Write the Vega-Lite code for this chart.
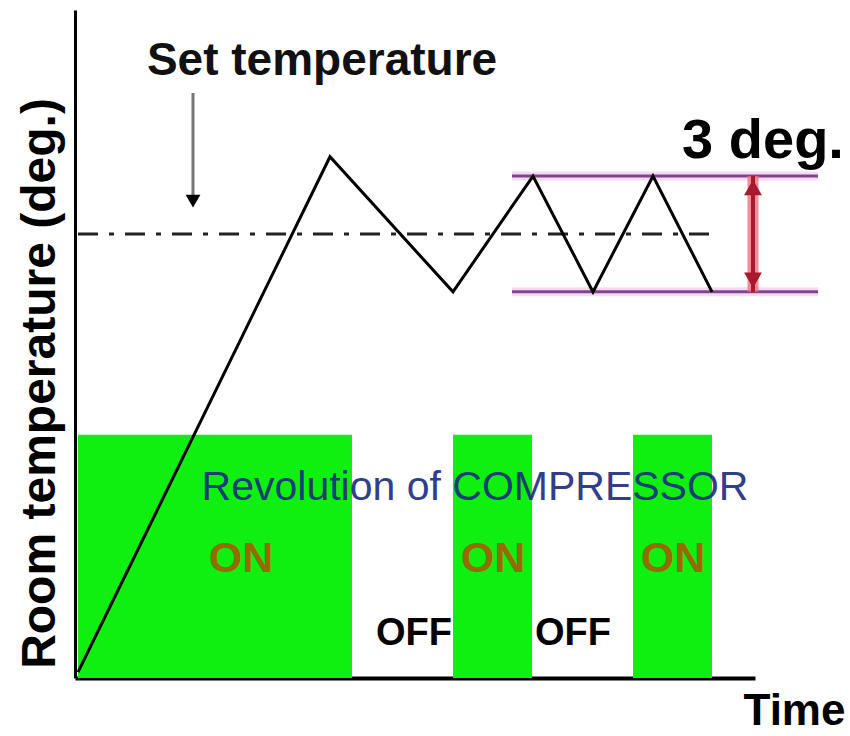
{
  "$schema": "https://vega.github.io/schema/vega-lite/v6.json",
  "width": 680,
  "height": 668,
  "autosize": {"type": "none"},
  "padding": {"left": 75, "top": 10, "right": 95, "bottom": 58},
  "background": "white",
  "config": {
    "view": {"stroke": null},
    "font": "Liberation Sans",
    "axisX": {
      "domain": true, "domainColor": "#000", "domainWidth": 4, "ticks": false, "labels": false, "grid": false,
      "titleFont": "Liberation Sans", "titleFontSize": 44, "titleFontWeight": "bold", "titleColor": "#000",
      "titleX": 719, "titleY": 46, "titleBaseline": "alphabetic", "titleAlign": "center"
    },
    "axisY": {
      "domain": true, "domainColor": "#000", "domainWidth": 3, "ticks": false, "labels": false, "grid": false,
      "titleFont": "Liberation Sans", "titleFontSize": 48, "titleFontWeight": "bold", "titleColor": "#000",
      "titleX": -21, "titleY": 373, "titleAngle": -90, "titleBaseline": "alphabetic", "titleAlign": "center"
    }
  },
  "datasets": {
    "compressor": [
      {"start": 0.3, "end": 27.7, "low": 13.5, "high": 19.8},
      {"start": 37.8, "end": 45.7, "low": 13.5, "high": 19.8},
      {"start": 55.8, "end": 63.7, "low": 13.5, "high": 19.8}
    ],
    "setpoint": [{"from": 0.3, "to": 64.0, "temp": 25}],
    "band": [
      {"from": 43.7, "to": 74.3, "temp": 26.5},
      {"from": 43.7, "to": 74.3, "temp": 23.5}
    ],
    "room": [
      {"time": 0.3, "temp": 13.65},
      {"time": 25.5, "temp": 27.0},
      {"time": 37.8, "temp": 23.5},
      {"time": 45.8, "temp": 26.5},
      {"time": 51.8, "temp": 23.5},
      {"time": 57.8, "temp": 26.5},
      {"time": 63.7, "temp": 23.5}
    ],
    "span": [{"time": 67.8, "low": 23.5, "high": 26.5}],
    "spanTop": [{"time": 67.8, "temp": 26.2}],
    "spanBottom": [{"time": 67.8, "temp": 23.8}],
    "pointer": [{"time": 11.8, "top": 28.65, "bottom": 25.95}],
    "pointerHead": [{"time": 11.8, "temp": 25.85}],
    "setLabel": [{"time": 24.7, "temp": 29.12, "label": "Set temperature"}],
    "degLabel": [{"time": 68.8, "temp": 26.97, "label": "3 deg."}],
    "revLabel": [{"time": 40.0, "temp": 18.11, "label": "Revolution of COMPRESSOR"}],
    "onLabel": [
      {"time": 16.6, "temp": 16.25, "label": "ON"},
      {"time": 41.8, "temp": 16.25, "label": "ON"},
      {"time": 59.8, "temp": 16.25, "label": "ON"}
    ],
    "offLabel": [
      {"time": 33.9, "temp": 14.35, "label": "OFF"},
      {"time": 49.8, "temp": 14.35, "label": "OFF"}
    ]
  },
  "layer": [
    {
      "data": {"name": "compressor"},
      "mark": {"type": "rect", "color": "#10f010"},
      "encoding": {
        "x": {"field": "start", "type": "quantitative", "scale": {"domain": [0, 68], "nice": false, "zero": false}, "title": "Time"},
        "x2": {"field": "end"},
        "y": {"field": "low", "type": "quantitative", "scale": {"domain": [13.5, 30.8], "nice": false, "zero": false}, "title": "Room temperature (deg.)"},
        "y2": {"field": "high"}
      }
    },
    {
      "data": {"name": "setpoint"},
      "mark": {"type": "rule", "color": "#222", "strokeWidth": 3, "strokeDash": [20, 11, 5, 11]},
      "encoding": {
        "x": {"field": "from", "type": "quantitative"},
        "x2": {"field": "to"},
        "y": {"field": "temp", "type": "quantitative"}
      }
    },
    {
      "data": {"name": "band"},
      "mark": {"type": "rule", "color": "#f9c6f2", "strokeWidth": 9, "opacity": 0.7},
      "encoding": {
        "x": {"field": "from", "type": "quantitative"},
        "x2": {"field": "to"},
        "y": {"field": "temp", "type": "quantitative"}
      }
    },
    {
      "data": {"name": "band"},
      "mark": {"type": "rule", "color": "#7a4a88", "strokeWidth": 3},
      "encoding": {
        "x": {"field": "from", "type": "quantitative"},
        "x2": {"field": "to"},
        "y": {"field": "temp", "type": "quantitative"}
      }
    },
    {
      "data": {"name": "room"},
      "mark": {"type": "line", "color": "#000", "strokeWidth": 3},
      "encoding": {
        "x": {"field": "time", "type": "quantitative"},
        "y": {"field": "temp", "type": "quantitative"}
      }
    },
    {
      "data": {"name": "span"},
      "mark": {"type": "rule", "color": "#ee7080", "strokeWidth": 11, "opacity": 0.8},
      "encoding": {
        "x": {"field": "time", "type": "quantitative"},
        "y": {"field": "low", "type": "quantitative"},
        "y2": {"field": "high"}
      }
    },
    {
      "data": {"name": "span"},
      "mark": {"type": "rule", "color": "#a8182e", "strokeWidth": 4},
      "encoding": {
        "x": {"field": "time", "type": "quantitative"},
        "y": {"field": "low", "type": "quantitative"},
        "y2": {"field": "high"}
      }
    },
    {
      "data": {"name": "spanTop"},
      "mark": {"type": "point", "shape": "triangle-up", "filled": true, "color": "#a8182e", "size": 320, "opacity": 1},
      "encoding": {
        "x": {"field": "time", "type": "quantitative"},
        "y": {"field": "temp", "type": "quantitative"}
      }
    },
    {
      "data": {"name": "spanBottom"},
      "mark": {"type": "point", "shape": "triangle-down", "filled": true, "color": "#a8182e", "size": 320, "opacity": 1},
      "encoding": {
        "x": {"field": "time", "type": "quantitative"},
        "y": {"field": "temp", "type": "quantitative"}
      }
    },
    {
      "data": {"name": "pointer"},
      "mark": {"type": "rule", "color": "#777", "strokeWidth": 3},
      "encoding": {
        "x": {"field": "time", "type": "quantitative"},
        "y": {"field": "top", "type": "quantitative"},
        "y2": {"field": "bottom"}
      }
    },
    {
      "data": {"name": "pointerHead"},
      "mark": {"type": "point", "shape": "triangle-down", "filled": true, "color": "#000", "size": 220, "opacity": 1},
      "encoding": {
        "x": {"field": "time", "type": "quantitative"},
        "y": {"field": "temp", "type": "quantitative"}
      }
    },
    {
      "data": {"name": "setLabel"},
      "mark": {"type": "text", "font": "Liberation Sans", "fontSize": 46, "fontWeight": "bold", "color": "#111", "align": "center", "baseline": "alphabetic"},
      "encoding": {
        "x": {"field": "time", "type": "quantitative"},
        "y": {"field": "temp", "type": "quantitative"},
        "text": {"field": "label"}
      }
    },
    {
      "data": {"name": "degLabel"},
      "mark": {"type": "text", "font": "Liberation Sans", "fontSize": 56, "fontWeight": "bold", "color": "#000", "align": "center", "baseline": "alphabetic"},
      "encoding": {
        "x": {"field": "time", "type": "quantitative"},
        "y": {"field": "temp", "type": "quantitative"},
        "text": {"field": "label"}
      }
    },
    {
      "data": {"name": "revLabel"},
      "mark": {"type": "text", "font": "Liberation Sans", "fontSize": 41, "fontWeight": "normal", "color": "#1a2a80", "opacity": 0.9, "align": "center", "baseline": "alphabetic"},
      "encoding": {
        "x": {"field": "time", "type": "quantitative"},
        "y": {"field": "temp", "type": "quantitative"},
        "text": {"field": "label"}
      }
    },
    {
      "data": {"name": "onLabel"},
      "mark": {"type": "text", "font": "Liberation Sans", "fontSize": 43, "fontWeight": "bold", "color": "#c04000", "opacity": 0.75, "align": "center", "baseline": "alphabetic"},
      "encoding": {
        "x": {"field": "time", "type": "quantitative"},
        "y": {"field": "temp", "type": "quantitative"},
        "text": {"field": "label"}
      }
    },
    {
      "data": {"name": "offLabel"},
      "mark": {"type": "text", "font": "Liberation Sans", "fontSize": 38, "fontWeight": "bold", "color": "#000", "align": "center", "baseline": "alphabetic"},
      "encoding": {
        "x": {"field": "time", "type": "quantitative"},
        "y": {"field": "temp", "type": "quantitative"},
        "text": {"field": "label"}
      }
    }
  ]
}
